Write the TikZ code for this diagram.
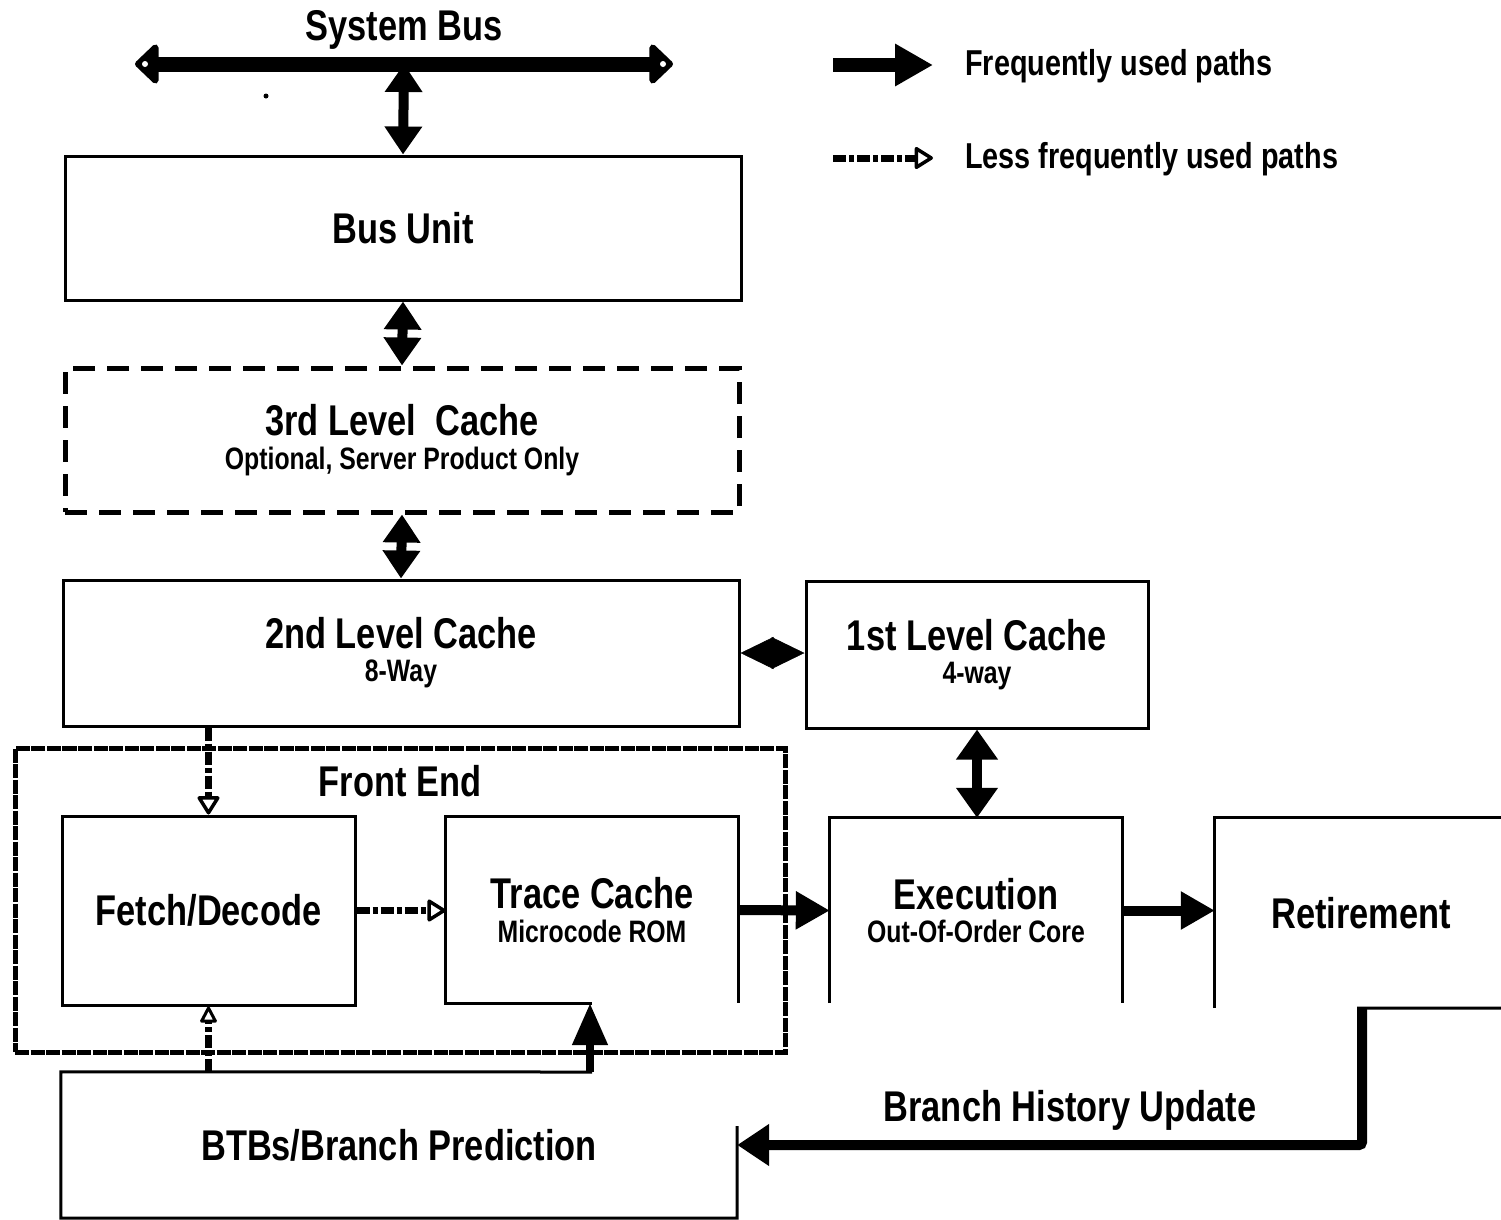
\documentclass[tikz,border=0pt]{standalone}
\usepackage{fontspec}
\setmainfont{Liberation Sans}[FakeStretch=0.8]
\usetikzlibrary{arrows.meta}
\tikzset{
  box/.style={draw, line width=3pt, align=center, inner sep=0pt},
  bare/.style={align=center, inner sep=0pt},
  big/.style={font=\bfseries\fontsize{43}{44}\selectfont},
  legtxt/.style={font=\bfseries\fontsize{36}{40}\selectfont, anchor=west, inner sep=0pt},
  dbl/.style={line width=10pt, {Triangle[width=36pt,length=28pt]}-{Triangle[width=36pt,length=28pt]}},
  solidarrow/.style={line width=10pt, -{Triangle[width=36pt,length=34pt]}},
  lessarrow/.style={line width=7pt, dash pattern=on 13pt off 3pt on 5pt off 3pt,
     -{Triangle[fill=white,width=24pt,length=20pt,line width=3.5pt,round]}},
  frontdash/.style={draw, line width=5pt, dash pattern=on 14pt off 1.5pt},
  l3dash/.style={draw, line width=5pt, dash pattern=on 22pt off 12pt},
}
\newcommand{\ttl}[1]{{\bfseries\fontsize{43}{44}\selectfont #1}}
\newcommand{\sub}[1]{{\bfseries\fontsize{31}{34}\selectfont #1}}
\begin{document}
\begin{tikzpicture}[x=1pt,y=-1pt]
\useasboundingbox (0,0) rectangle (1501,1219);
\fill[white] (0,0) rectangle (1501,1219);

% system bus
\node[big] (sbus) at (404,30) {System Bus};
\coordinate (busL) at (135,64);
\coordinate (busR) at (673,64);
\coordinate (busM) at (404,64);
\draw[line width=15pt, {Triangle[width=46pt,length=25pt,round]}-{Triangle[width=46pt,length=25pt,round]}] (busL) -- (busR);
\fill[white] (145,64) circle (3);
\fill[white] (663,64) circle (3);
\fill[black] (266,96) circle (2.5);

% boxes
\node[box, minimum width=676, minimum height=144, big] (bu) at (403,228) {Bus Unit};
\node[l3dash, bare, minimum width=674, minimum height=144] (l3) at (402,440)
  {\ttl{3rd Level~~Cache}\\[10pt]\sub{Optional, Server Product Only}};
\node[box, minimum width=676, minimum height=146] (l2) at (401,653)
  {\ttl{2nd Level Cache}\\[10pt]\sub{8-Way}};
\node[box, minimum width=342, minimum height=147] (l1) at (977,654.5)
  {\ttl{1st Level Cache}\\[10pt]\sub{4-way}};

% front end
\node[frontdash, minimum width=770, minimum height=304] (fe) at (400,900) {};
\node[big] (felabel) at (400,781) {Front End};
\node[box, minimum width=293, minimum height=189, big] (fd) at (208.5,910.5) {Fetch/Decode};
\node[bare, minimum width=292, minimum height=186] (tc) at (592,910)
  {\ttl{Trace Cache}\\[10pt]\sub{Microcode ROM}};
\draw[line width=3pt] (tc.south -| 592,0) -- (tc.south west) -- (tc.north west) -- (tc.north east) -- (tc.south east);

\node[bare, minimum width=292, minimum height=185] (ex) at (976,910.5)
  {\ttl{Execution}\\[10pt]\sub{Out-Of-Order Core}};
\draw[line width=3pt] (ex.south west) -- (ex.north west) -- (ex.north east) -- (ex.south east);

\node[bare, minimum width=292, minimum height=190, big] (ret) at (1361,913) {Retirement};
\draw[line width=3pt] (ret.south west) -- (ret.north west) -- (ret.north east);
\draw[line width=3pt] (1357,1008) -- (ret.south east);

\node[bare, minimum width=676, minimum height=146, big] (btb) at (399,1145) {BTBs/Branch Prediction};
\draw[line width=3pt] (592,1072) -- (btb.north west) -- (btb.south west) -- (btb.south east) -- (btb.east |- 0,1126);

% connectors
\draw[dbl] (busM) -- (bu.north);
\draw[dbl] (bu.south) -- (l3.north);
\draw[dbl] (l3.south) -- (l2.north);
\draw[line width=0.5pt, {Triangle[width=32pt,length=33pt]}-{Triangle[width=32pt,length=33pt]}] (l2.east) -- (l2.east -| l1.west);
\draw[line width=10pt, {Triangle[width=40pt,length=30pt]}-{Triangle[width=40pt,length=30pt]}] (l1.south) -- (l1.south |- ex.north);

\draw[lessarrow] (l2.south -| fd.north) -- (fd.north);
\draw[lessarrow] (fd.east) -- (fd.east -| tc.west);
\draw[lessarrow, -{Triangle[fill=white,width=18pt,length=18pt,line width=3pt,round]}] (btb.north -| fd.south) -- (fd.south);

\draw[line width=8pt, -{Triangle[width=34pt,length=42pt]}] (btb.north -| 590,0) -- (tc.south -| 590,0);
\draw[solidarrow] (tc.east) -- (ex.west);
\draw[solidarrow] (ex.east) -- (ex.east -| ret.west);

\coordinate (rb) at (1362,1008);
\draw[line width=10pt, rounded corners=3pt, -{Triangle[width=40pt,length=32pt]}] (rb) |- (btb.east);
\node[big] (bhu) at (1070,1110) {Branch History Update};

% legend
\coordinate (f1) at (833,65);
\coordinate (f2) at (933,65);
\draw[line width=14pt, -{Triangle[width=40pt,length=38pt]}] (f1) -- (f2);
\node[legtxt] (ft) at (965,66) {Frequently used paths};
\coordinate (g1) at (833,158);
\coordinate (g2) at (933,158);
\draw[lessarrow] (g1) -- (g2);
\node[legtxt] (gt) at (965,159) {Less frequently used paths};
\end{tikzpicture}
\end{document}
